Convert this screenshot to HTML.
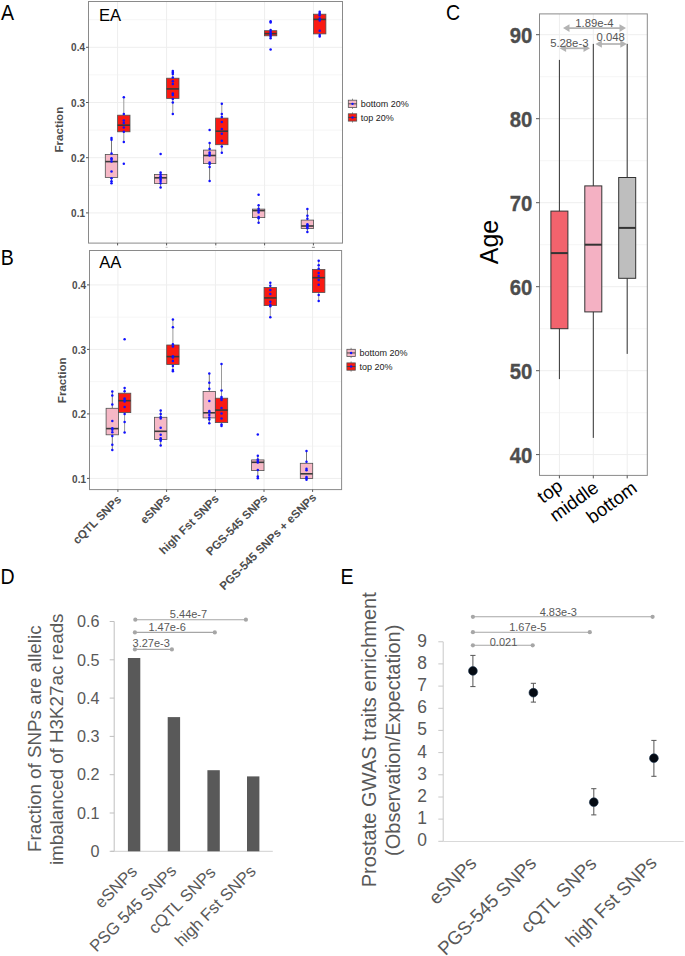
<!DOCTYPE html>
<html><head><meta charset="utf-8"><title>Figure</title>
<style>html,body{margin:0;padding:0;background:#fff;}svg{display:block;}</style>
</head><body>
<svg width="685" height="956" viewBox="0 0 685 956" font-family='"Liberation Sans", sans-serif'>
<rect width="685" height="956" fill="#fff"/>
<g>
<line x1="117.6" y1="1.5" x2="117.6" y2="243.1" stroke="#eeeeee" stroke-width="1"/>
<line x1="166.6" y1="1.5" x2="166.6" y2="243.1" stroke="#eeeeee" stroke-width="1"/>
<line x1="215.8" y1="1.5" x2="215.8" y2="243.1" stroke="#eeeeee" stroke-width="1"/>
<line x1="264.6" y1="1.5" x2="264.6" y2="243.1" stroke="#eeeeee" stroke-width="1"/>
<line x1="313.4" y1="1.5" x2="313.4" y2="243.1" stroke="#eeeeee" stroke-width="1"/>
<line x1="88.5" y1="185.3" x2="342.5" y2="185.3" stroke="#eeeeee" stroke-width="0.6"/>
<line x1="88.5" y1="130.1" x2="342.5" y2="130.1" stroke="#eeeeee" stroke-width="0.6"/>
<line x1="88.5" y1="74.9" x2="342.5" y2="74.9" stroke="#eeeeee" stroke-width="0.6"/>
<line x1="88.5" y1="19.69999999999999" x2="342.5" y2="19.69999999999999" stroke="#eeeeee" stroke-width="0.6"/>
<line x1="88.5" y1="212.89999999999998" x2="342.5" y2="212.89999999999998" stroke="#eeeeee" stroke-width="1"/>
<line x1="88.5" y1="157.7" x2="342.5" y2="157.7" stroke="#eeeeee" stroke-width="1"/>
<line x1="88.5" y1="102.5" x2="342.5" y2="102.5" stroke="#eeeeee" stroke-width="1"/>
<line x1="88.5" y1="47.29999999999998" x2="342.5" y2="47.29999999999998" stroke="#eeeeee" stroke-width="1"/>
<line x1="111.5" y1="138.6" x2="111.5" y2="154.4" stroke="#777" stroke-width="1"/>
<line x1="111.5" y1="177.4" x2="111.5" y2="183.3" stroke="#777" stroke-width="1"/>
<rect x="105.3" y="154.4" width="12.4" height="23.0" fill="#f6b8c6" stroke="#505050" stroke-width="0.8"/>
<line x1="105.3" y1="161.6" x2="117.7" y2="161.6" stroke="#3a3a3a" stroke-width="1.6"/>
<circle cx="111.5" cy="137.9" r="1.25" fill="#1010ff"/>
<circle cx="111.5" cy="139.7" r="1.25" fill="#1010ff"/>
<circle cx="111.5" cy="153.5" r="1.25" fill="#1010ff"/>
<circle cx="111.5" cy="158.2" r="1.25" fill="#1010ff"/>
<circle cx="111.5" cy="159.6" r="1.25" fill="#1010ff"/>
<circle cx="111.5" cy="161.4" r="1.25" fill="#1010ff"/>
<circle cx="111.5" cy="171.4" r="1.25" fill="#1010ff"/>
<circle cx="111.5" cy="178.3" r="1.25" fill="#1010ff"/>
<circle cx="111.5" cy="181.2" r="1.25" fill="#1010ff"/>
<circle cx="111.5" cy="183.3" r="1.25" fill="#1010ff"/>
<line x1="123.8" y1="97.2" x2="123.8" y2="115.2" stroke="#9a9a9a" stroke-width="1"/>
<line x1="123.8" y1="131.8" x2="123.8" y2="141.9" stroke="#9a9a9a" stroke-width="1"/>
<rect x="117.6" y="115.2" width="12.4" height="16.60000000000001" fill="#fa1a12" stroke="#505050" stroke-width="0.8"/>
<line x1="117.6" y1="125.2" x2="130.0" y2="125.2" stroke="#3a3a3a" stroke-width="1.6"/>
<circle cx="123.8" cy="97.2" r="1.25" fill="#1010ff"/>
<circle cx="123.8" cy="114.0" r="1.25" fill="#1010ff"/>
<circle cx="123.8" cy="120.5" r="1.25" fill="#1010ff"/>
<circle cx="123.8" cy="123.1" r="1.25" fill="#1010ff"/>
<circle cx="123.8" cy="127.4" r="1.25" fill="#1010ff"/>
<circle cx="123.8" cy="131.8" r="1.25" fill="#1010ff"/>
<circle cx="123.8" cy="141.9" r="1.25" fill="#1010ff"/>
<circle cx="123.8" cy="163.8" r="1.25" fill="#1010ff"/>
<line x1="160.6" y1="172.2" x2="160.6" y2="174.4" stroke="#777" stroke-width="1"/>
<line x1="160.6" y1="183.5" x2="160.6" y2="187.5" stroke="#777" stroke-width="1"/>
<rect x="154.4" y="174.4" width="12.4" height="9.099999999999994" fill="#f6b8c6" stroke="#505050" stroke-width="0.8"/>
<line x1="154.4" y1="177.8" x2="166.79999999999998" y2="177.8" stroke="#3a3a3a" stroke-width="1.6"/>
<circle cx="160.6" cy="154.0" r="1.25" fill="#1010ff"/>
<circle cx="160.6" cy="172.5" r="1.25" fill="#1010ff"/>
<circle cx="160.6" cy="174.5" r="1.25" fill="#1010ff"/>
<circle cx="160.6" cy="176.2" r="1.25" fill="#1010ff"/>
<circle cx="160.6" cy="177.6" r="1.25" fill="#1010ff"/>
<circle cx="160.6" cy="179.2" r="1.25" fill="#1010ff"/>
<circle cx="160.6" cy="181.0" r="1.25" fill="#1010ff"/>
<circle cx="160.6" cy="183.3" r="1.25" fill="#1010ff"/>
<circle cx="160.6" cy="187.5" r="1.25" fill="#1010ff"/>
<line x1="172.8" y1="71.0" x2="172.8" y2="78.2" stroke="#9a9a9a" stroke-width="1"/>
<line x1="172.8" y1="98.4" x2="172.8" y2="114.0" stroke="#9a9a9a" stroke-width="1"/>
<rect x="166.60000000000002" y="78.2" width="12.4" height="20.200000000000003" fill="#fa1a12" stroke="#505050" stroke-width="0.8"/>
<line x1="166.60000000000002" y1="88.9" x2="179.0" y2="88.9" stroke="#3a3a3a" stroke-width="1.6"/>
<circle cx="172.8" cy="71.0" r="1.25" fill="#1010ff"/>
<circle cx="172.8" cy="72.5" r="1.25" fill="#1010ff"/>
<circle cx="172.8" cy="73.9" r="1.25" fill="#1010ff"/>
<circle cx="172.8" cy="77.5" r="1.25" fill="#1010ff"/>
<circle cx="172.8" cy="81.2" r="1.25" fill="#1010ff"/>
<circle cx="172.8" cy="84.1" r="1.25" fill="#1010ff"/>
<circle cx="172.8" cy="93.6" r="1.25" fill="#1010ff"/>
<circle cx="172.8" cy="95.0" r="1.25" fill="#1010ff"/>
<circle cx="172.8" cy="99.1" r="1.25" fill="#1010ff"/>
<circle cx="172.8" cy="102.6" r="1.25" fill="#1010ff"/>
<circle cx="172.8" cy="114.0" r="1.25" fill="#1010ff"/>
<line x1="209.6" y1="143.1" x2="209.6" y2="150.1" stroke="#777" stroke-width="1"/>
<line x1="209.6" y1="163.6" x2="209.6" y2="181.1" stroke="#777" stroke-width="1"/>
<rect x="203.4" y="150.1" width="12.4" height="13.5" fill="#f6b8c6" stroke="#505050" stroke-width="0.8"/>
<line x1="203.4" y1="155.5" x2="215.79999999999998" y2="155.5" stroke="#3a3a3a" stroke-width="1.6"/>
<circle cx="209.6" cy="130.1" r="1.25" fill="#1010ff"/>
<circle cx="209.6" cy="143.1" r="1.25" fill="#1010ff"/>
<circle cx="209.6" cy="149.0" r="1.25" fill="#1010ff"/>
<circle cx="209.6" cy="152.6" r="1.25" fill="#1010ff"/>
<circle cx="209.6" cy="154.1" r="1.25" fill="#1010ff"/>
<circle cx="209.6" cy="155.5" r="1.25" fill="#1010ff"/>
<circle cx="209.6" cy="162.4" r="1.25" fill="#1010ff"/>
<circle cx="209.6" cy="163.9" r="1.25" fill="#1010ff"/>
<circle cx="209.6" cy="166.9" r="1.25" fill="#1010ff"/>
<circle cx="209.6" cy="181.1" r="1.25" fill="#1010ff"/>
<line x1="221.8" y1="103.8" x2="221.8" y2="118.1" stroke="#9a9a9a" stroke-width="1"/>
<line x1="221.8" y1="144.7" x2="221.8" y2="152.7" stroke="#9a9a9a" stroke-width="1"/>
<rect x="215.60000000000002" y="118.1" width="12.4" height="26.599999999999994" fill="#fa1a12" stroke="#505050" stroke-width="0.8"/>
<line x1="215.60000000000002" y1="131.2" x2="228.0" y2="131.2" stroke="#3a3a3a" stroke-width="1.6"/>
<circle cx="221.8" cy="103.8" r="1.25" fill="#1010ff"/>
<circle cx="221.8" cy="114.0" r="1.25" fill="#1010ff"/>
<circle cx="221.8" cy="116.9" r="1.25" fill="#1010ff"/>
<circle cx="221.8" cy="122.0" r="1.25" fill="#1010ff"/>
<circle cx="221.8" cy="128.9" r="1.25" fill="#1010ff"/>
<circle cx="221.8" cy="133.7" r="1.25" fill="#1010ff"/>
<circle cx="221.8" cy="140.7" r="1.25" fill="#1010ff"/>
<circle cx="221.8" cy="146.6" r="1.25" fill="#1010ff"/>
<circle cx="221.8" cy="152.7" r="1.25" fill="#1010ff"/>
<line x1="258.6" y1="205.2" x2="258.6" y2="209.1" stroke="#777" stroke-width="1"/>
<line x1="258.6" y1="217.6" x2="258.6" y2="222.7" stroke="#777" stroke-width="1"/>
<rect x="252.40000000000003" y="209.1" width="12.4" height="8.5" fill="#f6b8c6" stroke="#505050" stroke-width="0.8"/>
<line x1="252.40000000000003" y1="210.6" x2="264.8" y2="210.6" stroke="#3a3a3a" stroke-width="1.6"/>
<circle cx="258.6" cy="194.7" r="1.25" fill="#1010ff"/>
<circle cx="258.6" cy="205.2" r="1.25" fill="#1010ff"/>
<circle cx="258.6" cy="208.8" r="1.25" fill="#1010ff"/>
<circle cx="258.6" cy="210.7" r="1.25" fill="#1010ff"/>
<circle cx="258.6" cy="212.5" r="1.25" fill="#1010ff"/>
<circle cx="258.6" cy="216.9" r="1.25" fill="#1010ff"/>
<circle cx="258.6" cy="218.3" r="1.25" fill="#1010ff"/>
<circle cx="258.6" cy="222.7" r="1.25" fill="#1010ff"/>
<line x1="270.6" y1="29.9" x2="270.6" y2="30.7" stroke="#9a9a9a" stroke-width="1"/>
<line x1="270.6" y1="35.8" x2="270.6" y2="38.2" stroke="#9a9a9a" stroke-width="1"/>
<rect x="264.40000000000003" y="30.7" width="12.4" height="5.099999999999998" fill="#fa1a12" stroke="#505050" stroke-width="0.8"/>
<line x1="264.40000000000003" y1="33.6" x2="276.8" y2="33.6" stroke="#3a3a3a" stroke-width="1.6"/>
<circle cx="270.6" cy="21.2" r="1.25" fill="#1010ff"/>
<circle cx="270.6" cy="22.6" r="1.25" fill="#1010ff"/>
<circle cx="270.6" cy="29.9" r="1.25" fill="#1010ff"/>
<circle cx="270.6" cy="31.8" r="1.25" fill="#1010ff"/>
<circle cx="270.6" cy="33.4" r="1.25" fill="#1010ff"/>
<circle cx="270.6" cy="35.0" r="1.25" fill="#1010ff"/>
<circle cx="270.6" cy="36.6" r="1.25" fill="#1010ff"/>
<circle cx="270.6" cy="38.2" r="1.25" fill="#1010ff"/>
<circle cx="270.6" cy="49.6" r="1.25" fill="#1010ff"/>
<line x1="307.4" y1="209.1" x2="307.4" y2="220.1" stroke="#777" stroke-width="1"/>
<line x1="307.4" y1="228.5" x2="307.4" y2="232.0" stroke="#777" stroke-width="1"/>
<rect x="301.2" y="220.1" width="12.4" height="8.400000000000006" fill="#f6b8c6" stroke="#505050" stroke-width="0.8"/>
<line x1="301.2" y1="226.0" x2="313.59999999999997" y2="226.0" stroke="#3a3a3a" stroke-width="1.6"/>
<circle cx="307.4" cy="209.1" r="1.25" fill="#1010ff"/>
<circle cx="307.4" cy="215.8" r="1.25" fill="#1010ff"/>
<circle cx="307.4" cy="218.8" r="1.25" fill="#1010ff"/>
<circle cx="307.4" cy="224.2" r="1.25" fill="#1010ff"/>
<circle cx="307.4" cy="225.6" r="1.25" fill="#1010ff"/>
<circle cx="307.4" cy="227.0" r="1.25" fill="#1010ff"/>
<circle cx="307.4" cy="228.2" r="1.25" fill="#1010ff"/>
<circle cx="307.4" cy="232.0" r="1.25" fill="#1010ff"/>
<line x1="319.7" y1="11.7" x2="319.7" y2="14.2" stroke="#9a9a9a" stroke-width="1"/>
<line x1="319.7" y1="33.9" x2="319.7" y2="36.5" stroke="#9a9a9a" stroke-width="1"/>
<rect x="313.5" y="14.2" width="12.4" height="19.7" fill="#fa1a12" stroke="#505050" stroke-width="0.8"/>
<line x1="313.5" y1="19.4" x2="325.9" y2="19.4" stroke="#3a3a3a" stroke-width="1.6"/>
<circle cx="319.7" cy="11.7" r="1.25" fill="#1010ff"/>
<circle cx="319.7" cy="13.2" r="1.25" fill="#1010ff"/>
<circle cx="319.7" cy="15.3" r="1.25" fill="#1010ff"/>
<circle cx="319.7" cy="18.6" r="1.25" fill="#1010ff"/>
<circle cx="319.7" cy="20.4" r="1.25" fill="#1010ff"/>
<circle cx="319.7" cy="30.7" r="1.25" fill="#1010ff"/>
<circle cx="319.7" cy="35.0" r="1.25" fill="#1010ff"/>
<circle cx="319.7" cy="36.5" r="1.25" fill="#1010ff"/>
<rect x="88.5" y="1.5" width="254.0" height="241.6" fill="none" stroke="#8a8a8a" stroke-width="1"/>
<line x1="86.0" y1="212.9" x2="88.5" y2="212.9" stroke="#555" stroke-width="1"/>
<text x="85.0" y="217.0" text-anchor="end" font-size="10" font-weight="bold" fill="#4d4d4d">0.1</text>
<line x1="86.0" y1="157.7" x2="88.5" y2="157.7" stroke="#555" stroke-width="1"/>
<text x="85.0" y="161.8" text-anchor="end" font-size="10" font-weight="bold" fill="#4d4d4d">0.2</text>
<line x1="86.0" y1="102.5" x2="88.5" y2="102.5" stroke="#555" stroke-width="1"/>
<text x="85.0" y="106.6" text-anchor="end" font-size="10" font-weight="bold" fill="#4d4d4d">0.3</text>
<line x1="86.0" y1="47.3" x2="88.5" y2="47.3" stroke="#555" stroke-width="1"/>
<text x="85.0" y="51.4" text-anchor="end" font-size="10" font-weight="bold" fill="#4d4d4d">0.4</text>
<line x1="117.6" y1="243.1" x2="117.6" y2="245.4" stroke="#555" stroke-width="1"/>
<line x1="166.6" y1="243.1" x2="166.6" y2="245.4" stroke="#555" stroke-width="1"/>
<line x1="215.8" y1="243.1" x2="215.8" y2="245.4" stroke="#555" stroke-width="1"/>
<line x1="264.6" y1="243.1" x2="264.6" y2="245.4" stroke="#555" stroke-width="1"/>
<line x1="313.4" y1="243.1" x2="313.4" y2="245.4" stroke="#555" stroke-width="1"/>
<text x="99" y="20.6" font-size="16.6" fill="#000">EA</text>
<line x1="352.5" y1="98.7" x2="352.5" y2="109.0" stroke="#777" stroke-width="0.8"/>
<rect x="348.3" y="100.2" width="8.4" height="7.3" fill="#f6b8c6" stroke="#555" stroke-width="0.8"/>
<line x1="348.3" y1="103.85000000000001" x2="356.7" y2="103.85000000000001" stroke="#444" stroke-width="1"/>
<circle cx="352.5" cy="103.85000000000001" r="1.2" fill="#1010ff"/>
<text x="360.8" y="107.0" font-size="9" fill="#1a1a1a">bottom 20%</text>
<line x1="352.5" y1="112.3" x2="352.5" y2="122.6" stroke="#777" stroke-width="0.8"/>
<rect x="348.3" y="113.8" width="8.4" height="7.3" fill="#fa1a12" stroke="#555" stroke-width="0.8"/>
<line x1="348.3" y1="117.45" x2="356.7" y2="117.45" stroke="#444" stroke-width="1"/>
<circle cx="352.5" cy="117.45" r="1.2" fill="#1010ff"/>
<text x="360.8" y="120.6" font-size="9" fill="#1a1a1a">top 20%</text>
</g>
<g>
<line x1="117.9" y1="250.5" x2="117.9" y2="489.6" stroke="#eeeeee" stroke-width="1"/>
<line x1="166.6" y1="250.5" x2="166.6" y2="489.6" stroke="#eeeeee" stroke-width="1"/>
<line x1="215.4" y1="250.5" x2="215.4" y2="489.6" stroke="#eeeeee" stroke-width="1"/>
<line x1="264.0" y1="250.5" x2="264.0" y2="489.6" stroke="#eeeeee" stroke-width="1"/>
<line x1="312.6" y1="250.5" x2="312.6" y2="489.6" stroke="#eeeeee" stroke-width="1"/>
<line x1="89.5" y1="446.15" x2="341.6" y2="446.15" stroke="#eeeeee" stroke-width="0.6"/>
<line x1="89.5" y1="381.65" x2="341.6" y2="381.65" stroke="#eeeeee" stroke-width="0.6"/>
<line x1="89.5" y1="317.15" x2="341.6" y2="317.15" stroke="#eeeeee" stroke-width="0.6"/>
<line x1="89.5" y1="478.4" x2="341.6" y2="478.4" stroke="#eeeeee" stroke-width="1"/>
<line x1="89.5" y1="413.9" x2="341.6" y2="413.9" stroke="#eeeeee" stroke-width="1"/>
<line x1="89.5" y1="349.4" x2="341.6" y2="349.4" stroke="#eeeeee" stroke-width="1"/>
<line x1="89.5" y1="284.9" x2="341.6" y2="284.9" stroke="#eeeeee" stroke-width="1"/>
<line x1="112.3" y1="391.3" x2="112.3" y2="408.3" stroke="#777" stroke-width="1"/>
<line x1="112.3" y1="434.8" x2="112.3" y2="449.9" stroke="#777" stroke-width="1"/>
<rect x="106.1" y="408.3" width="12.4" height="26.5" fill="#f6b8c6" stroke="#505050" stroke-width="0.8"/>
<line x1="106.1" y1="428.6" x2="118.5" y2="428.6" stroke="#3a3a3a" stroke-width="1.6"/>
<circle cx="112.3" cy="391.4" r="1.25" fill="#1010ff"/>
<circle cx="112.3" cy="395.4" r="1.25" fill="#1010ff"/>
<circle cx="112.3" cy="404.6" r="1.25" fill="#1010ff"/>
<circle cx="112.3" cy="421.1" r="1.25" fill="#1010ff"/>
<circle cx="112.3" cy="428.2" r="1.25" fill="#1010ff"/>
<circle cx="112.3" cy="429.7" r="1.25" fill="#1010ff"/>
<circle cx="112.3" cy="432.3" r="1.25" fill="#1010ff"/>
<circle cx="112.3" cy="436.0" r="1.25" fill="#1010ff"/>
<circle cx="112.3" cy="444.7" r="1.25" fill="#1010ff"/>
<circle cx="112.3" cy="449.9" r="1.25" fill="#1010ff"/>
<line x1="124.6" y1="388.1" x2="124.6" y2="393.2" stroke="#9a9a9a" stroke-width="1"/>
<line x1="124.6" y1="412.6" x2="124.6" y2="432.6" stroke="#9a9a9a" stroke-width="1"/>
<rect x="118.39999999999999" y="393.2" width="12.4" height="19.400000000000034" fill="#fa1a12" stroke="#505050" stroke-width="0.8"/>
<line x1="118.39999999999999" y1="400.7" x2="130.79999999999998" y2="400.7" stroke="#3a3a3a" stroke-width="1.6"/>
<circle cx="124.6" cy="339.2" r="1.25" fill="#1010ff"/>
<circle cx="124.6" cy="388.1" r="1.25" fill="#1010ff"/>
<circle cx="124.6" cy="391.3" r="1.25" fill="#1010ff"/>
<circle cx="124.6" cy="398.6" r="1.25" fill="#1010ff"/>
<circle cx="124.6" cy="400.1" r="1.25" fill="#1010ff"/>
<circle cx="124.6" cy="401.5" r="1.25" fill="#1010ff"/>
<circle cx="124.6" cy="406.9" r="1.25" fill="#1010ff"/>
<circle cx="124.6" cy="414.0" r="1.25" fill="#1010ff"/>
<circle cx="124.6" cy="422.1" r="1.25" fill="#1010ff"/>
<circle cx="124.6" cy="432.6" r="1.25" fill="#1010ff"/>
<line x1="160.7" y1="410.4" x2="160.7" y2="417.3" stroke="#777" stroke-width="1"/>
<line x1="160.7" y1="439.6" x2="160.7" y2="445.8" stroke="#777" stroke-width="1"/>
<rect x="154.5" y="417.3" width="12.4" height="22.30000000000001" fill="#f6b8c6" stroke="#505050" stroke-width="0.8"/>
<line x1="154.5" y1="431.3" x2="166.89999999999998" y2="431.3" stroke="#3a3a3a" stroke-width="1.6"/>
<circle cx="160.7" cy="410.4" r="1.25" fill="#1010ff"/>
<circle cx="160.7" cy="414.1" r="1.25" fill="#1010ff"/>
<circle cx="160.7" cy="417.0" r="1.25" fill="#1010ff"/>
<circle cx="160.7" cy="418.5" r="1.25" fill="#1010ff"/>
<circle cx="160.7" cy="427.7" r="1.25" fill="#1010ff"/>
<circle cx="160.7" cy="434.8" r="1.25" fill="#1010ff"/>
<circle cx="160.7" cy="438.2" r="1.25" fill="#1010ff"/>
<circle cx="160.7" cy="439.6" r="1.25" fill="#1010ff"/>
<circle cx="160.7" cy="440.8" r="1.25" fill="#1010ff"/>
<circle cx="160.7" cy="445.6" r="1.25" fill="#1010ff"/>
<line x1="172.9" y1="319.4" x2="172.9" y2="345.0" stroke="#9a9a9a" stroke-width="1"/>
<line x1="172.9" y1="364.5" x2="172.9" y2="371.0" stroke="#9a9a9a" stroke-width="1"/>
<rect x="166.70000000000002" y="345.0" width="12.4" height="19.5" fill="#fa1a12" stroke="#505050" stroke-width="0.8"/>
<line x1="166.70000000000002" y1="356.6" x2="179.1" y2="356.6" stroke="#3a3a3a" stroke-width="1.6"/>
<circle cx="172.9" cy="319.4" r="1.25" fill="#1010ff"/>
<circle cx="172.9" cy="327.3" r="1.25" fill="#1010ff"/>
<circle cx="172.9" cy="344.2" r="1.25" fill="#1010ff"/>
<circle cx="172.9" cy="346.4" r="1.25" fill="#1010ff"/>
<circle cx="172.9" cy="356.2" r="1.25" fill="#1010ff"/>
<circle cx="172.9" cy="357.4" r="1.25" fill="#1010ff"/>
<circle cx="172.9" cy="361.0" r="1.25" fill="#1010ff"/>
<circle cx="172.9" cy="366.0" r="1.25" fill="#1010ff"/>
<circle cx="172.9" cy="370.1" r="1.25" fill="#1010ff"/>
<circle cx="172.9" cy="371.2" r="1.25" fill="#1010ff"/>
<line x1="209.3" y1="373.7" x2="209.3" y2="391.5" stroke="#777" stroke-width="1"/>
<line x1="209.3" y1="417.9" x2="209.3" y2="423.6" stroke="#777" stroke-width="1"/>
<rect x="203.10000000000002" y="391.5" width="12.4" height="26.399999999999977" fill="#f6b8c6" stroke="#505050" stroke-width="0.8"/>
<line x1="203.10000000000002" y1="412.8" x2="215.5" y2="412.8" stroke="#3a3a3a" stroke-width="1.6"/>
<circle cx="209.3" cy="373.6" r="1.25" fill="#1010ff"/>
<circle cx="209.3" cy="382.8" r="1.25" fill="#1010ff"/>
<circle cx="209.3" cy="388.7" r="1.25" fill="#1010ff"/>
<circle cx="209.3" cy="401.1" r="1.25" fill="#1010ff"/>
<circle cx="209.3" cy="410.9" r="1.25" fill="#1010ff"/>
<circle cx="209.3" cy="412.3" r="1.25" fill="#1010ff"/>
<circle cx="209.3" cy="415.0" r="1.25" fill="#1010ff"/>
<circle cx="209.3" cy="417.4" r="1.25" fill="#1010ff"/>
<circle cx="209.3" cy="419.6" r="1.25" fill="#1010ff"/>
<circle cx="209.3" cy="423.3" r="1.25" fill="#1010ff"/>
<line x1="221.5" y1="364.0" x2="221.5" y2="398.2" stroke="#9a9a9a" stroke-width="1"/>
<line x1="221.5" y1="422.6" x2="221.5" y2="426.6" stroke="#9a9a9a" stroke-width="1"/>
<rect x="215.3" y="398.2" width="12.4" height="24.400000000000034" fill="#fa1a12" stroke="#505050" stroke-width="0.8"/>
<line x1="215.3" y1="410.1" x2="227.7" y2="410.1" stroke="#3a3a3a" stroke-width="1.6"/>
<circle cx="221.5" cy="364.0" r="1.25" fill="#1010ff"/>
<circle cx="221.5" cy="390.4" r="1.25" fill="#1010ff"/>
<circle cx="221.5" cy="397.0" r="1.25" fill="#1010ff"/>
<circle cx="221.5" cy="398.5" r="1.25" fill="#1010ff"/>
<circle cx="221.5" cy="399.9" r="1.25" fill="#1010ff"/>
<circle cx="221.5" cy="408.0" r="1.25" fill="#1010ff"/>
<circle cx="221.5" cy="413.4" r="1.25" fill="#1010ff"/>
<circle cx="221.5" cy="418.6" r="1.25" fill="#1010ff"/>
<circle cx="221.5" cy="424.5" r="1.25" fill="#1010ff"/>
<circle cx="221.5" cy="425.9" r="1.25" fill="#1010ff"/>
<line x1="257.8" y1="455.7" x2="257.8" y2="459.9" stroke="#777" stroke-width="1"/>
<line x1="257.8" y1="470.6" x2="257.8" y2="478.5" stroke="#777" stroke-width="1"/>
<rect x="251.60000000000002" y="459.9" width="12.4" height="10.700000000000045" fill="#f6b8c6" stroke="#505050" stroke-width="0.8"/>
<line x1="251.60000000000002" y1="462.3" x2="264.0" y2="462.3" stroke="#3a3a3a" stroke-width="1.6"/>
<circle cx="257.8" cy="434.5" r="1.25" fill="#1010ff"/>
<circle cx="257.8" cy="455.7" r="1.25" fill="#1010ff"/>
<circle cx="257.8" cy="459.6" r="1.25" fill="#1010ff"/>
<circle cx="257.8" cy="461.1" r="1.25" fill="#1010ff"/>
<circle cx="257.8" cy="462.6" r="1.25" fill="#1010ff"/>
<circle cx="257.8" cy="470.1" r="1.25" fill="#1010ff"/>
<circle cx="257.8" cy="476.4" r="1.25" fill="#1010ff"/>
<circle cx="257.8" cy="478.3" r="1.25" fill="#1010ff"/>
<line x1="270.3" y1="282.8" x2="270.3" y2="287.5" stroke="#9a9a9a" stroke-width="1"/>
<line x1="270.3" y1="305.6" x2="270.3" y2="317.2" stroke="#9a9a9a" stroke-width="1"/>
<rect x="264.1" y="287.5" width="12.4" height="18.100000000000023" fill="#fa1a12" stroke="#505050" stroke-width="0.8"/>
<line x1="264.1" y1="297.9" x2="276.5" y2="297.9" stroke="#3a3a3a" stroke-width="1.6"/>
<circle cx="270.3" cy="282.8" r="1.25" fill="#1010ff"/>
<circle cx="270.3" cy="285.8" r="1.25" fill="#1010ff"/>
<circle cx="270.3" cy="289.9" r="1.25" fill="#1010ff"/>
<circle cx="270.3" cy="294.1" r="1.25" fill="#1010ff"/>
<circle cx="270.3" cy="301.8" r="1.25" fill="#1010ff"/>
<circle cx="270.3" cy="304.7" r="1.25" fill="#1010ff"/>
<circle cx="270.3" cy="306.2" r="1.25" fill="#1010ff"/>
<circle cx="270.3" cy="317.2" r="1.25" fill="#1010ff"/>
<line x1="306.5" y1="450.9" x2="306.5" y2="463.3" stroke="#777" stroke-width="1"/>
<line x1="306.5" y1="478.6" x2="306.5" y2="479.8" stroke="#777" stroke-width="1"/>
<rect x="300.3" y="463.3" width="12.4" height="15.300000000000011" fill="#f6b8c6" stroke="#505050" stroke-width="0.8"/>
<line x1="300.3" y1="473.8" x2="312.7" y2="473.8" stroke="#3a3a3a" stroke-width="1.6"/>
<circle cx="306.5" cy="450.9" r="1.25" fill="#1010ff"/>
<circle cx="306.5" cy="461.8" r="1.25" fill="#1010ff"/>
<circle cx="306.5" cy="468.8" r="1.25" fill="#1010ff"/>
<circle cx="306.5" cy="470.3" r="1.25" fill="#1010ff"/>
<circle cx="306.5" cy="476.9" r="1.25" fill="#1010ff"/>
<circle cx="306.5" cy="478.3" r="1.25" fill="#1010ff"/>
<circle cx="306.5" cy="479.8" r="1.25" fill="#1010ff"/>
<line x1="318.7" y1="260.7" x2="318.7" y2="269.4" stroke="#9a9a9a" stroke-width="1"/>
<line x1="318.7" y1="292.5" x2="318.7" y2="301.1" stroke="#9a9a9a" stroke-width="1"/>
<rect x="312.5" y="269.4" width="12.4" height="23.100000000000023" fill="#fa1a12" stroke="#505050" stroke-width="0.8"/>
<line x1="312.5" y1="277.7" x2="324.9" y2="277.7" stroke="#3a3a3a" stroke-width="1.6"/>
<circle cx="318.7" cy="260.7" r="1.25" fill="#1010ff"/>
<circle cx="318.7" cy="265.3" r="1.25" fill="#1010ff"/>
<circle cx="318.7" cy="268.7" r="1.25" fill="#1010ff"/>
<circle cx="318.7" cy="272.9" r="1.25" fill="#1010ff"/>
<circle cx="318.7" cy="276.0" r="1.25" fill="#1010ff"/>
<circle cx="318.7" cy="279.9" r="1.25" fill="#1010ff"/>
<circle cx="318.7" cy="284.7" r="1.25" fill="#1010ff"/>
<circle cx="318.7" cy="295.0" r="1.25" fill="#1010ff"/>
<circle cx="318.7" cy="301.1" r="1.25" fill="#1010ff"/>
<rect x="89.5" y="250.5" width="252.10000000000002" height="239.10000000000002" fill="none" stroke="#8a8a8a" stroke-width="1"/>
<line x1="87.0" y1="478.4" x2="89.5" y2="478.4" stroke="#555" stroke-width="1"/>
<text x="86.0" y="482.5" text-anchor="end" font-size="10" font-weight="bold" fill="#4d4d4d">0.1</text>
<line x1="87.0" y1="413.9" x2="89.5" y2="413.9" stroke="#555" stroke-width="1"/>
<text x="86.0" y="418.0" text-anchor="end" font-size="10" font-weight="bold" fill="#4d4d4d">0.2</text>
<line x1="87.0" y1="349.4" x2="89.5" y2="349.4" stroke="#555" stroke-width="1"/>
<text x="86.0" y="353.5" text-anchor="end" font-size="10" font-weight="bold" fill="#4d4d4d">0.3</text>
<line x1="87.0" y1="284.9" x2="89.5" y2="284.9" stroke="#555" stroke-width="1"/>
<text x="86.0" y="289.0" text-anchor="end" font-size="10" font-weight="bold" fill="#4d4d4d">0.4</text>
<line x1="117.9" y1="489.6" x2="117.9" y2="491.90000000000003" stroke="#555" stroke-width="1"/>
<line x1="166.6" y1="489.6" x2="166.6" y2="491.90000000000003" stroke="#555" stroke-width="1"/>
<line x1="215.4" y1="489.6" x2="215.4" y2="491.90000000000003" stroke="#555" stroke-width="1"/>
<line x1="264.0" y1="489.6" x2="264.0" y2="491.90000000000003" stroke="#555" stroke-width="1"/>
<line x1="312.6" y1="489.6" x2="312.6" y2="491.90000000000003" stroke="#555" stroke-width="1"/>
<text x="99.2" y="268.1" font-size="16.6" fill="#000">AA</text>
<line x1="351.09999999999997" y1="347.8" x2="351.09999999999997" y2="358.1" stroke="#777" stroke-width="0.8"/>
<rect x="346.9" y="349.3" width="8.4" height="7.3" fill="#f6b8c6" stroke="#555" stroke-width="0.8"/>
<line x1="346.9" y1="352.95" x2="355.29999999999995" y2="352.95" stroke="#444" stroke-width="1"/>
<circle cx="351.09999999999997" cy="352.95" r="1.2" fill="#1010ff"/>
<text x="359.4" y="356.1" font-size="9" fill="#1a1a1a">bottom 20%</text>
<line x1="351.09999999999997" y1="361.40000000000003" x2="351.09999999999997" y2="371.70000000000005" stroke="#777" stroke-width="0.8"/>
<rect x="346.9" y="362.90000000000003" width="8.4" height="7.3" fill="#fa1a12" stroke="#555" stroke-width="0.8"/>
<line x1="346.9" y1="366.55" x2="355.29999999999995" y2="366.55" stroke="#444" stroke-width="1"/>
<circle cx="351.09999999999997" cy="366.55" r="1.2" fill="#1010ff"/>
<text x="359.4" y="369.70000000000005" font-size="9" fill="#1a1a1a">top 20%</text>
</g>
<line x1="165.6" y1="247.3" x2="167.6" y2="247.3" stroke="#bbb" stroke-width="0.9"/>
<line x1="215.2" y1="247.3" x2="216.4" y2="247.3" stroke="#ddd" stroke-width="0.9"/>
<line x1="264.0" y1="247.3" x2="265.2" y2="247.3" stroke="#ddd" stroke-width="0.9"/>
<line x1="311.9" y1="247.3" x2="314.9" y2="247.3" stroke="#777" stroke-width="0.9"/>
<text transform="translate(63.3,129.6) rotate(-90)" text-anchor="middle" font-size="11.6" font-weight="bold" fill="#4d4d4d">Fraction</text>
<text transform="translate(66.0,380.3) rotate(-90)" text-anchor="middle" font-size="11.6" font-weight="bold" fill="#4d4d4d">Fraction</text>
<text id="B0" transform="translate(122.05,500.20) rotate(-45)" text-anchor="end" font-size="11.6" font-weight="bold" fill="#4d4d4d">cQTL SNPs</text>
<text id="B1" transform="translate(170.90,498.55) rotate(-45)" text-anchor="end" font-size="11.6" font-weight="bold" fill="#4d4d4d">eSNPs</text>
<text id="B2" transform="translate(219.60,499.45) rotate(-45)" text-anchor="end" font-size="11.6" font-weight="bold" fill="#4d4d4d">high Fst SNPs</text>
<text id="B3" transform="translate(268.10,498.90) rotate(-45)" text-anchor="end" font-size="11.6" font-weight="bold" fill="#4d4d4d">PGS-545 SNPs</text>
<text id="B4" transform="translate(317.10,498.10) rotate(-45)" text-anchor="end" font-size="11.6" font-weight="bold" fill="#4d4d4d">PGS-545 SNPs + eSNPs</text>
<text transform="translate(0.9,19.6) scale(0.91,1)" font-size="21.5" fill="#000">A</text>
<text transform="translate(0.7,264.8) scale(0.91,1)" font-size="21.5" fill="#000">B</text>
<text transform="translate(446.0,19.7) scale(0.91,1)" font-size="21.5" fill="#000">C</text>
<text transform="translate(0.5,583.5) scale(0.91,1)" font-size="21.5" fill="#000">D</text>
<text transform="translate(340.5,583.5) scale(0.91,1)" font-size="21.5" fill="#000">E</text>
<line x1="539.5" y1="76.7" x2="647.3" y2="76.7" stroke="#eeeeee" stroke-width="0.6"/>
<line x1="539.5" y1="160.7" x2="647.3" y2="160.7" stroke="#eeeeee" stroke-width="0.6"/>
<line x1="539.5" y1="244.7" x2="647.3" y2="244.7" stroke="#eeeeee" stroke-width="0.6"/>
<line x1="539.5" y1="328.7" x2="647.3" y2="328.7" stroke="#eeeeee" stroke-width="0.6"/>
<line x1="539.5" y1="412.7" x2="647.3" y2="412.7" stroke="#eeeeee" stroke-width="0.6"/>
<line x1="539.5" y1="34.7" x2="647.3" y2="34.7" stroke="#eeeeee" stroke-width="1"/>
<line x1="539.5" y1="118.7" x2="647.3" y2="118.7" stroke="#eeeeee" stroke-width="1"/>
<line x1="539.5" y1="202.7" x2="647.3" y2="202.7" stroke="#eeeeee" stroke-width="1"/>
<line x1="539.5" y1="286.7" x2="647.3" y2="286.7" stroke="#eeeeee" stroke-width="1"/>
<line x1="539.5" y1="370.7" x2="647.3" y2="370.7" stroke="#eeeeee" stroke-width="1"/>
<line x1="539.5" y1="454.6" x2="647.3" y2="454.6" stroke="#eeeeee" stroke-width="1"/>
<line x1="559.4" y1="13.9" x2="559.4" y2="475.4" stroke="#eeeeee" stroke-width="1"/>
<line x1="593.3" y1="13.9" x2="593.3" y2="475.4" stroke="#eeeeee" stroke-width="1"/>
<line x1="627.2" y1="13.9" x2="627.2" y2="475.4" stroke="#eeeeee" stroke-width="1"/>
<line x1="559.4" y1="59.9" x2="559.4" y2="379.1" stroke="#333" stroke-width="1"/>
<rect x="550.9" y="211.1" width="17" height="117.6" fill="#f2636d" stroke="#333" stroke-width="1"/>
<line x1="550.9" y1="253.1" x2="567.9" y2="253.1" stroke="#333" stroke-width="2"/>
<line x1="593.3" y1="43.9" x2="593.3" y2="437.9" stroke="#333" stroke-width="1"/>
<rect x="584.8" y="185.9" width="17" height="126.0" fill="#f4b1c3" stroke="#333" stroke-width="1"/>
<line x1="584.8" y1="244.7" x2="601.8" y2="244.7" stroke="#333" stroke-width="2"/>
<line x1="627.2" y1="43.9" x2="627.2" y2="353.9" stroke="#333" stroke-width="1"/>
<rect x="618.7" y="177.5" width="17" height="100.8" fill="#bebebe" stroke="#333" stroke-width="1"/>
<line x1="618.7" y1="227.9" x2="635.7" y2="227.9" stroke="#333" stroke-width="2"/>
<rect x="539.5" y="13.9" width="107.79999999999995" height="461.5" fill="none" stroke="#8a8a8a" stroke-width="1"/>
<line x1="536.0" y1="34.7" x2="539.5" y2="34.7" stroke="#555" stroke-width="1"/>
<text transform="translate(532.3,43.4) scale(0.9,1)" text-anchor="end" font-size="22.6" font-weight="bold" fill="#4d4d4d" stroke="#4d4d4d" stroke-width="0.35">90</text>
<line x1="536.0" y1="118.7" x2="539.5" y2="118.7" stroke="#555" stroke-width="1"/>
<text transform="translate(532.3,127.4) scale(0.9,1)" text-anchor="end" font-size="22.6" font-weight="bold" fill="#4d4d4d" stroke="#4d4d4d" stroke-width="0.35">80</text>
<line x1="536.0" y1="202.7" x2="539.5" y2="202.7" stroke="#555" stroke-width="1"/>
<text transform="translate(532.3,211.4) scale(0.9,1)" text-anchor="end" font-size="22.6" font-weight="bold" fill="#4d4d4d" stroke="#4d4d4d" stroke-width="0.35">70</text>
<line x1="536.0" y1="286.7" x2="539.5" y2="286.7" stroke="#555" stroke-width="1"/>
<text transform="translate(532.3,295.4) scale(0.9,1)" text-anchor="end" font-size="22.6" font-weight="bold" fill="#4d4d4d" stroke="#4d4d4d" stroke-width="0.35">60</text>
<line x1="536.0" y1="370.7" x2="539.5" y2="370.7" stroke="#555" stroke-width="1"/>
<text transform="translate(532.3,379.4) scale(0.9,1)" text-anchor="end" font-size="22.6" font-weight="bold" fill="#4d4d4d" stroke="#4d4d4d" stroke-width="0.35">50</text>
<line x1="536.0" y1="454.6" x2="539.5" y2="454.6" stroke="#555" stroke-width="1"/>
<text transform="translate(532.3,463.3) scale(0.9,1)" text-anchor="end" font-size="22.6" font-weight="bold" fill="#4d4d4d" stroke="#4d4d4d" stroke-width="0.35">40</text>
<line x1="559.4" y1="475.4" x2="559.4" y2="478.4" stroke="#555" stroke-width="1"/>
<line x1="593.3" y1="475.4" x2="593.3" y2="478.4" stroke="#555" stroke-width="1"/>
<line x1="627.2" y1="475.4" x2="627.2" y2="478.4" stroke="#555" stroke-width="1"/>
<text transform="translate(497.6,242.0) rotate(-90)" text-anchor="middle" font-size="25" fill="#000">Age</text>
<text id="C0" transform="translate(564.00,488.70) rotate(-36)" text-anchor="end" font-size="18.6" fill="#000">top</text>
<text id="C1" transform="translate(599.75,490.35) rotate(-36)" text-anchor="end" font-size="18.6" fill="#000">middle</text>
<text id="C2" transform="translate(638.35,490.75) rotate(-36)" text-anchor="end" font-size="18.6" fill="#000">bottom</text>
<line x1="567.0" y1="28.1" x2="622.0" y2="28.1" stroke="#b3b3b3" stroke-width="1.7"/><path d="M563.0,28.1 L569.5,24.3 L569.5,31.900000000000002 Z" fill="#b3b3b3"/><path d="M626.0,28.1 L619.5,24.3 L619.5,31.900000000000002 Z" fill="#b3b3b3"/>
<line x1="599.4" y1="44.0" x2="622.8" y2="44.0" stroke="#b3b3b3" stroke-width="1.7"/><path d="M595.4,44.0 L601.9,40.2 L601.9,47.8 Z" fill="#b3b3b3"/><path d="M626.8,44.0 L620.3,40.2 L620.3,47.8 Z" fill="#b3b3b3"/>
<line x1="563.6" y1="48.3" x2="586.0" y2="48.3" stroke="#b3b3b3" stroke-width="1.7"/><path d="M559.6,48.3 L566.1,44.5 L566.1,52.099999999999994 Z" fill="#b3b3b3"/><path d="M590.0,48.3 L583.5,44.5 L583.5,52.099999999999994 Z" fill="#b3b3b3"/>
<text x="594.5" y="27.2" text-anchor="middle" font-size="11.3" fill="#555">1.89e-4</text>
<text x="610.7" y="40.6" text-anchor="middle" font-size="11.3" fill="#555">0.048</text>
<text x="569.3" y="47.0" text-anchor="middle" font-size="11.3" fill="#555">5.28e-3</text>
<line x1="114.2" y1="621.5" x2="114.2" y2="851.3" stroke="#bfbfbf" stroke-width="1"/>
<line x1="111" y1="851.3" x2="272.8" y2="851.3" stroke="#d0d0d0" stroke-width="1"/>
<line x1="109.7" y1="851.3" x2="114.2" y2="851.3" stroke="#bfbfbf" stroke-width="1"/>
<text x="99.6" y="857.0" text-anchor="end" font-size="16.2" fill="#595959">0</text>
<line x1="109.7" y1="813.0" x2="114.2" y2="813.0" stroke="#bfbfbf" stroke-width="1"/>
<text x="99.6" y="818.7" text-anchor="end" font-size="16.2" fill="#595959">0.1</text>
<line x1="109.7" y1="774.7" x2="114.2" y2="774.7" stroke="#bfbfbf" stroke-width="1"/>
<text x="99.6" y="780.4" text-anchor="end" font-size="16.2" fill="#595959">0.2</text>
<line x1="109.7" y1="736.4" x2="114.2" y2="736.4" stroke="#bfbfbf" stroke-width="1"/>
<text x="99.6" y="742.1" text-anchor="end" font-size="16.2" fill="#595959">0.3</text>
<line x1="109.7" y1="698.1" x2="114.2" y2="698.1" stroke="#bfbfbf" stroke-width="1"/>
<text x="99.6" y="703.8" text-anchor="end" font-size="16.2" fill="#595959">0.4</text>
<line x1="109.7" y1="659.8" x2="114.2" y2="659.8" stroke="#bfbfbf" stroke-width="1"/>
<text x="99.6" y="665.5" text-anchor="end" font-size="16.2" fill="#595959">0.5</text>
<line x1="109.7" y1="621.5" x2="114.2" y2="621.5" stroke="#bfbfbf" stroke-width="1"/>
<text x="99.6" y="627.2" text-anchor="end" font-size="16.2" fill="#595959">0.6</text>
<rect x="127.89999999999999" y="658.0" width="12.4" height="193.3" fill="#595959"/>
<rect x="167.70000000000002" y="717.1" width="12.4" height="134.2" fill="#595959"/>
<rect x="207.4" y="770.2" width="12.4" height="81.1" fill="#595959"/>
<rect x="247.0" y="776.4" width="12.4" height="74.9" fill="#595959"/>
<line x1="135.3" y1="619.7" x2="245.9" y2="619.7" stroke="#a6a6a6" stroke-width="1.1"/><circle cx="135.3" cy="619.7" r="2.1" fill="#a6a6a6"/><circle cx="245.9" cy="619.7" r="2.1" fill="#a6a6a6"/>
<line x1="134.9" y1="632.4" x2="214.8" y2="632.4" stroke="#a6a6a6" stroke-width="1.1"/><circle cx="134.9" cy="632.4" r="2.1" fill="#a6a6a6"/><circle cx="214.8" cy="632.4" r="2.1" fill="#a6a6a6"/>
<line x1="134.9" y1="649.4" x2="171.9" y2="649.4" stroke="#a6a6a6" stroke-width="1.1"/><circle cx="134.9" cy="649.4" r="2.1" fill="#a6a6a6"/><circle cx="171.9" cy="649.4" r="2.1" fill="#a6a6a6"/>
<text x="188.5" y="617.6" text-anchor="middle" font-size="11" fill="#595959">5.44e-7</text>
<text x="167.1" y="631.0" text-anchor="middle" font-size="11" fill="#595959">1.47e-6</text>
<text x="151.2" y="646.5" text-anchor="middle" font-size="11" fill="#595959">3.27e-3</text>
<text transform="translate(41.3,738.7) rotate(-90)" text-anchor="middle" font-size="18.8" fill="#595959">Fraction of SNPs are allelic</text>
<text transform="translate(63.1,739.3) rotate(-90)" text-anchor="middle" font-size="18.8" fill="#595959">imbalanced of H3K27ac reads</text>
<text id="D0" transform="translate(138.15,872.60) rotate(-45)" text-anchor="end" font-size="16.6" fill="#595959">eSNPs</text>
<text id="D1" transform="translate(177.35,871.95) rotate(-45)" text-anchor="end" font-size="16.6" fill="#595959">PSG 545 SNPs</text>
<text id="D2" transform="translate(216.65,873.30) rotate(-45)" text-anchor="end" font-size="16.6" fill="#595959">cQTL SNPs</text>
<text id="D3" transform="translate(256.75,872.35) rotate(-45)" text-anchor="end" font-size="16.6" fill="#595959">high Fst SNPs</text>
<line x1="443.2" y1="641.8" x2="443.2" y2="841.3" stroke="#c8c8c8" stroke-width="1"/>
<line x1="443.2" y1="841.5" x2="683.7" y2="841.5" stroke="#d9d9d9" stroke-width="1"/>
<line x1="438.3" y1="841.3" x2="443.2" y2="841.3" stroke="#c8c8c8" stroke-width="1"/>
<text transform="translate(427.0,846.3) scale(0.92,1)" text-anchor="end" font-size="19" fill="#595959">0</text>
<line x1="438.3" y1="819.1" x2="443.2" y2="819.1" stroke="#c8c8c8" stroke-width="1"/>
<text transform="translate(427.0,824.1) scale(0.92,1)" text-anchor="end" font-size="19" fill="#595959">1</text>
<line x1="438.3" y1="797.0" x2="443.2" y2="797.0" stroke="#c8c8c8" stroke-width="1"/>
<text transform="translate(427.0,802.0) scale(0.92,1)" text-anchor="end" font-size="19" fill="#595959">2</text>
<line x1="438.3" y1="774.8" x2="443.2" y2="774.8" stroke="#c8c8c8" stroke-width="1"/>
<text transform="translate(427.0,779.8) scale(0.92,1)" text-anchor="end" font-size="19" fill="#595959">3</text>
<line x1="438.3" y1="752.6" x2="443.2" y2="752.6" stroke="#c8c8c8" stroke-width="1"/>
<text transform="translate(427.0,757.6) scale(0.92,1)" text-anchor="end" font-size="19" fill="#595959">4</text>
<line x1="438.3" y1="730.4" x2="443.2" y2="730.4" stroke="#c8c8c8" stroke-width="1"/>
<text transform="translate(427.0,735.4) scale(0.92,1)" text-anchor="end" font-size="19" fill="#595959">5</text>
<line x1="438.3" y1="708.3" x2="443.2" y2="708.3" stroke="#c8c8c8" stroke-width="1"/>
<text transform="translate(427.0,713.3) scale(0.92,1)" text-anchor="end" font-size="19" fill="#595959">6</text>
<line x1="438.3" y1="686.1" x2="443.2" y2="686.1" stroke="#c8c8c8" stroke-width="1"/>
<text transform="translate(427.0,691.1) scale(0.92,1)" text-anchor="end" font-size="19" fill="#595959">7</text>
<line x1="438.3" y1="663.9" x2="443.2" y2="663.9" stroke="#c8c8c8" stroke-width="1"/>
<text transform="translate(427.0,668.9) scale(0.92,1)" text-anchor="end" font-size="19" fill="#595959">8</text>
<line x1="438.3" y1="641.8" x2="443.2" y2="641.8" stroke="#c8c8c8" stroke-width="1"/>
<text transform="translate(427.0,646.8) scale(0.92,1)" text-anchor="end" font-size="19" fill="#595959">9</text>
<line x1="472.9" y1="655.4" x2="472.9" y2="686.6" stroke="#555" stroke-width="1"/>
<line x1="470.29999999999995" y1="655.4" x2="475.5" y2="655.4" stroke="#555" stroke-width="1"/>
<line x1="470.29999999999995" y1="686.6" x2="475.5" y2="686.6" stroke="#555" stroke-width="1"/>
<circle cx="472.9" cy="670.9" r="4.4" fill="#050a12" stroke="#1d3550" stroke-width="0.6"/>
<line x1="533.4" y1="683.3" x2="533.4" y2="702.1" stroke="#555" stroke-width="1"/>
<line x1="530.8" y1="683.3" x2="536.0" y2="683.3" stroke="#555" stroke-width="1"/>
<line x1="530.8" y1="702.1" x2="536.0" y2="702.1" stroke="#555" stroke-width="1"/>
<circle cx="533.4" cy="692.7" r="4.4" fill="#050a12" stroke="#1d3550" stroke-width="0.6"/>
<line x1="593.8" y1="788.7" x2="593.8" y2="814.9" stroke="#555" stroke-width="1"/>
<line x1="591.1999999999999" y1="788.7" x2="596.4" y2="788.7" stroke="#555" stroke-width="1"/>
<line x1="591.1999999999999" y1="814.9" x2="596.4" y2="814.9" stroke="#555" stroke-width="1"/>
<circle cx="593.8" cy="802.2" r="4.4" fill="#050a12" stroke="#1d3550" stroke-width="0.6"/>
<line x1="653.9" y1="740.4" x2="653.9" y2="776.3" stroke="#555" stroke-width="1"/>
<line x1="651.3" y1="740.4" x2="656.5" y2="740.4" stroke="#555" stroke-width="1"/>
<line x1="651.3" y1="776.3" x2="656.5" y2="776.3" stroke="#555" stroke-width="1"/>
<circle cx="653.9" cy="758.2" r="4.4" fill="#050a12" stroke="#1d3550" stroke-width="0.6"/>
<line x1="472.9" y1="616.8" x2="652.6" y2="616.8" stroke="#a6a6a6" stroke-width="1.1"/><circle cx="472.9" cy="616.8" r="2.1" fill="#a6a6a6"/><circle cx="652.6" cy="616.8" r="2.1" fill="#a6a6a6"/>
<line x1="472.9" y1="632.2" x2="589.8" y2="632.2" stroke="#a6a6a6" stroke-width="1.1"/><circle cx="472.9" cy="632.2" r="2.1" fill="#a6a6a6"/><circle cx="589.8" cy="632.2" r="2.1" fill="#a6a6a6"/>
<line x1="472.9" y1="645.3" x2="532.7" y2="645.3" stroke="#a6a6a6" stroke-width="1.1"/><circle cx="472.9" cy="645.3" r="2.1" fill="#a6a6a6"/><circle cx="532.7" cy="645.3" r="2.1" fill="#a6a6a6"/>
<text x="558.3" y="615.8" text-anchor="middle" font-size="11" fill="#595959">4.83e-3</text>
<text x="527.8" y="630.9" text-anchor="middle" font-size="11" fill="#595959">1.67e-5</text>
<text x="503.5" y="646.0" text-anchor="middle" font-size="11" fill="#595959">0.021</text>
<text transform="translate(375.6,739.7) rotate(-90)" text-anchor="middle" font-size="20.1" fill="#595959">Prostate GWAS traits enrichment</text>
<text transform="translate(399.5,740.3) rotate(-90)" text-anchor="middle" font-size="20" fill="#595959">(Observation/Expectation)</text>
<text id="E0" transform="translate(477.60,864.30) rotate(-45)" text-anchor="end" font-size="18.7" fill="#595959">eSNPs</text>
<text id="E1" transform="translate(537.35,864.35) rotate(-45)" text-anchor="end" font-size="18.7" fill="#595959">PGS-545 SNPs</text>
<text id="E2" transform="translate(597.50,864.85) rotate(-45)" text-anchor="end" font-size="18.7" fill="#595959">cQTL SNPs</text>
<text id="E3" transform="translate(657.80,863.80) rotate(-45)" text-anchor="end" font-size="18.7" fill="#595959">high Fst SNPs</text>
</svg>
</body></html>
